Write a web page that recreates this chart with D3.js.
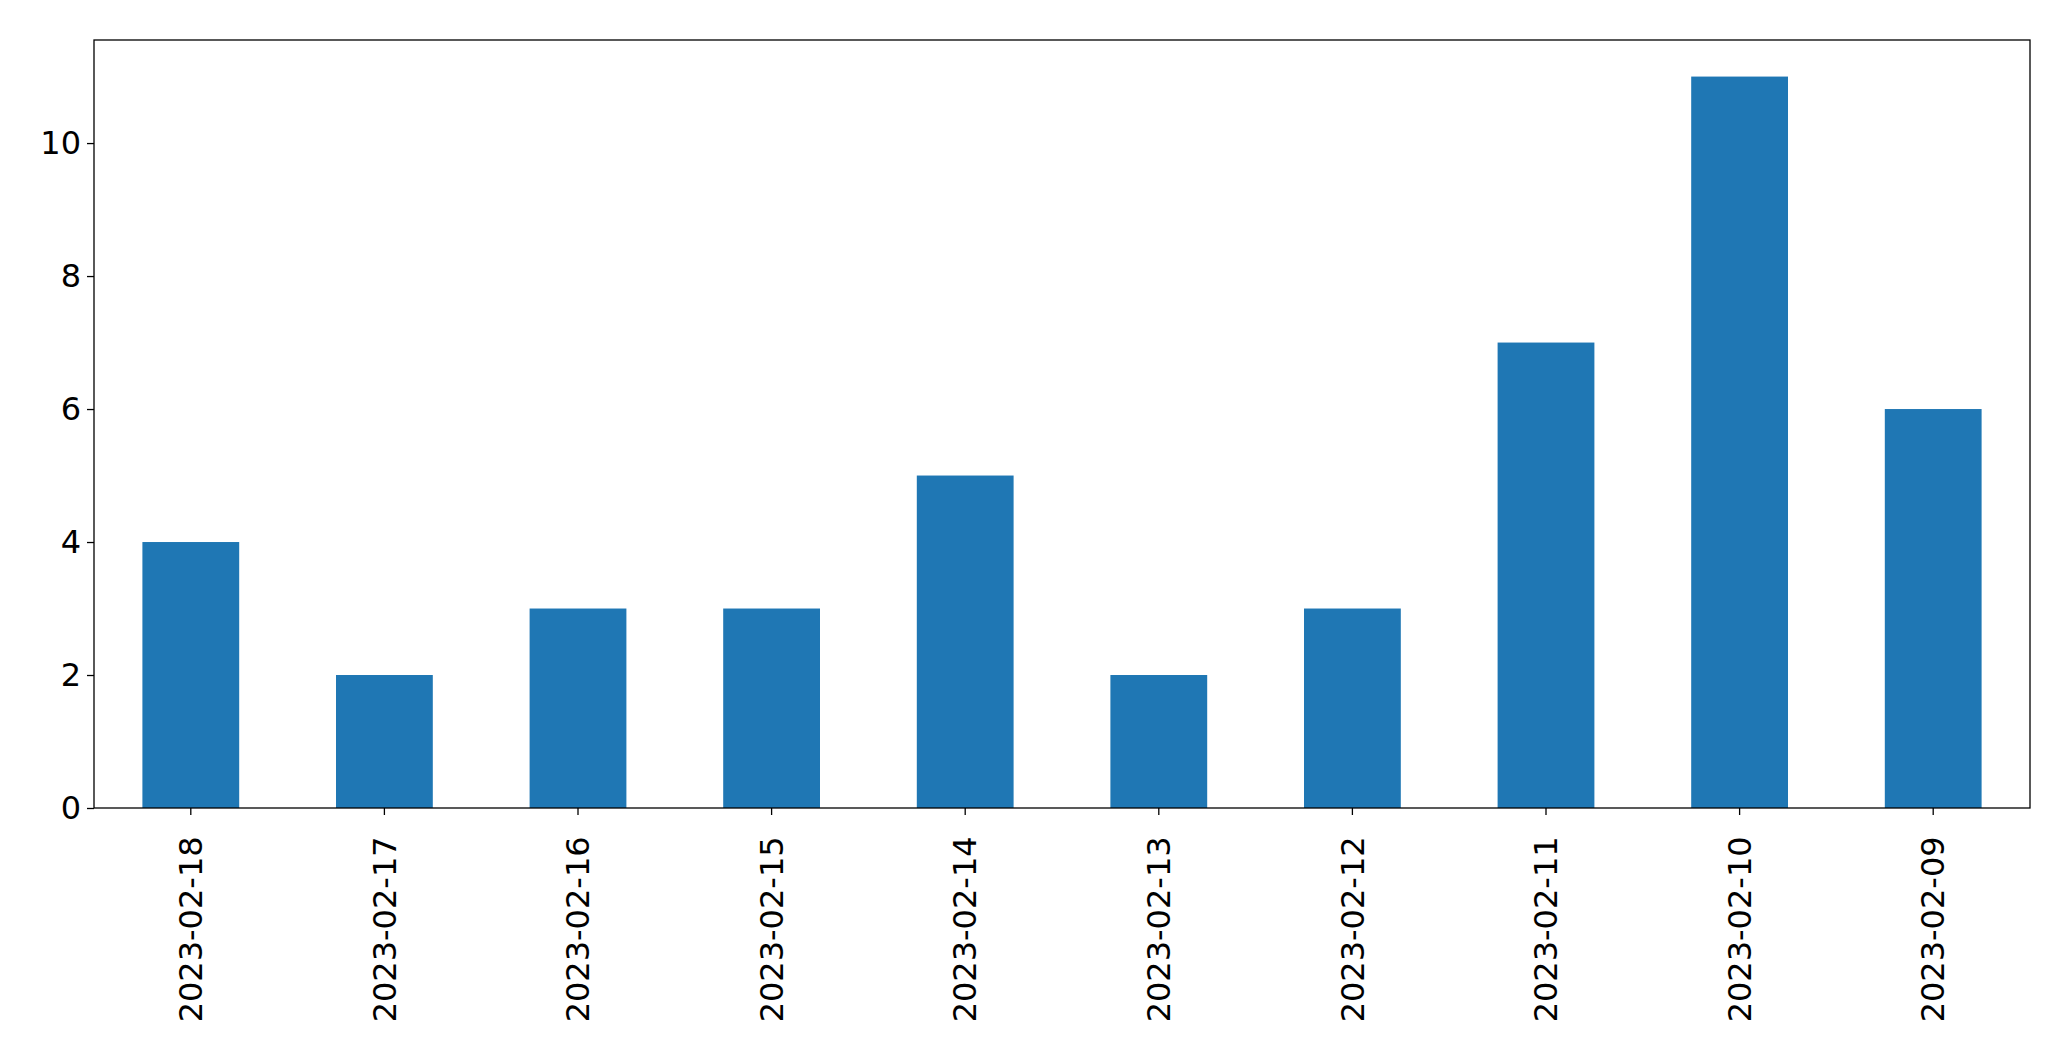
<!DOCTYPE html>
<html>
<head>
<meta charset="utf-8">
<script src="https://cdn.jsdelivr.net/npm/d3@7"></script>
<style>
  body { margin: 0; background: #fff; }
  text { font-family: "DejaVu Sans", sans-serif; }
</style>
</head>
<body>
<svg id="chart" width="2071" height="1061"></svg>
<script>
const dates = ['2023-02-18', '2023-02-17', '2023-02-16', '2023-02-15', '2023-02-14',
               '2023-02-13', '2023-02-12', '2023-02-11', '2023-02-10', '2023-02-09']
const counts = [4, 2, 3, 3, 5, 2, 3, 7, 11, 6]
const yTicks = [0, 2, 4, 6, 8, 10]

const margin = { top: 40, right: 41, bottom: 253, left: 94 }
const width = 2071 - margin.left - margin.right
const height = 1061 - margin.top - margin.bottom

const svg = d3.select('#chart')
const g = svg.append('g').attr('transform', `translate(${margin.left},${margin.top})`)

const x = d3.scaleBand().domain(dates).range([0, width]).paddingInner(0.5).paddingOuter(0.25)
const y = d3.scaleLinear().domain([0, d3.max(counts) * 1.05]).range([height, 0])

g.selectAll('rect.bar')
    .data(counts)
    .enter()
    .append('rect')
    .attr('class', 'bar')
    .attr('x', (d, i) => x(dates[i]))
    .attr('y', d => y(d))
    .attr('width', x.bandwidth())
    .attr('height', d => height - y(d))
    .attr('fill', '#1f77b4')

const yAxis = g.append('g').call(d3.axisLeft(y).tickValues(yTicks).tickSize(7).tickPadding(6))
const xAxis = g.append('g').attr('transform', `translate(0,${height})`)
    .call(d3.axisBottom(x).tickSize(7).tickPadding(6))

xAxis.selectAll('text')
    .attr('transform', 'rotate(-90)')
    .attr('text-anchor', 'end')
    .attr('dx', '-0.45em')
    .attr('dy', '0.35em')
    .attr('x', 0)
    .attr('y', 0)
    .attr('transform', 'translate(0,14) rotate(-90)')

for (const ax of [xAxis, yAxis]) {
    ax.selectAll('text').style('font-size', '32px').attr('fill', '#000')
    ax.selectAll('line').attr('stroke', '#000').attr('stroke-width', 1.3)
    ax.select('.domain').remove()
}

g.append('rect')
    .attr('width', width)
    .attr('height', height)
    .attr('fill', 'none')
    .attr('stroke', '#000')
    .attr('stroke-width', 1.3)
</script>
</body>
</html>
